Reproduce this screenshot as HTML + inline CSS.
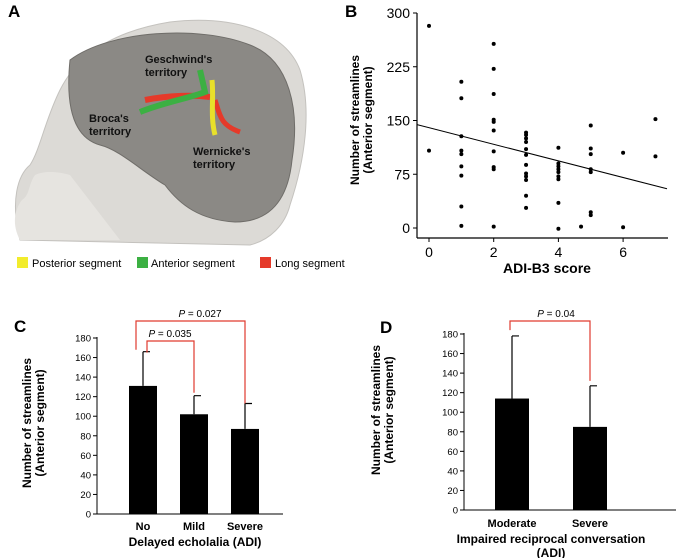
<!DOCTYPE html>
<html><head><meta charset="utf-8">
<style>
body{margin:0;background:#fff;overflow:hidden;}
svg{display:block;font-family:"Liberation Sans",Arial,sans-serif;}
</style></head>
<body>
<svg id="fig" width="688" height="558" viewBox="0 0 688 558" xmlns="http://www.w3.org/2000/svg">
<g>
<text x="8" y="17" font-size="17" font-weight="bold">A</text>
<path d="M20,240 C10,200 18,175 30,165 C40,150 45,120 60,90 C80,50 120,30 170,22 C230,15 285,30 300,70 C312,110 305,160 290,205 C285,225 270,240 250,245 Z" fill="#dcdad6" stroke="#c4c2be"/>
<path d="M20,240 C12,225 14,210 22,200 C30,195 28,185 35,175 C45,170 60,172 70,175 L120,240 Z" fill="#e6e4e0"/>
<path d="M70,60 C110,30 200,25 250,45 C290,60 300,110 292,160 C288,200 270,222 235,222 C200,220 180,205 165,185 C140,170 120,150 100,145 C75,138 65,110 70,60 Z" fill="#8b8985" stroke="#6f6d69"/>
<path d="M145,100 C170,95 195,95 210,97" stroke="#e53a2a" stroke-width="6" fill="none"/>
<path d="M215,100 C220,115 220,125 240,132" stroke="#e53a2a" stroke-width="5" fill="none"/>
<path d="M140,112 C165,102 190,98 205,92 L200,70" stroke="#3cb043" stroke-width="6" fill="none"/>
<path d="M212,80 C214,100 210,115 215,135" stroke="#e8e02a" stroke-width="5" fill="none"/>
<g font-size="11" font-weight="bold" fill="#111">
<text x="145" y="63">Geschwind's</text>
<text x="145" y="76">territory</text>
<text x="89" y="122">Broca's</text>
<text x="89" y="135">territory</text>
<text x="193" y="155">Wernicke's</text>
<text x="193" y="168">territory</text>
</g>
<g font-size="11">
<rect x="17" y="257" width="11" height="11" fill="#f2ec2c"/>
<text x="32" y="267">Posterior segment</text>
<rect x="137" y="257" width="11" height="11" fill="#3cb043"/>
<text x="151" y="267">Anterior segment</text>
<rect x="260" y="257" width="11" height="11" fill="#e53a2a"/>
<text x="275" y="267">Long segment</text>
</g>
</g>
<g id="panelB"></g>
<g id="panelC"></g>
<g id="panelD"></g>
</svg>
<script>
const NS="http://www.w3.org/2000/svg";
function el(p,t,a,txt){const e=document.createElementNS(NS,t);for(const k in a)e.setAttribute(k,a[k]);if(txt!==undefined)e.textContent=txt;p.appendChild(e);return e;}

const bX=[0,0,1,1,1,1,1,1,1,1,1,2,2,2,2,2,2,2,2,2,2,3,3,3,3,3,3,3,3,3,3,3,3,4,4,4,4,4,4,4,4,4,4.7,5,5,5,5,5,5,5,6,6,7,7];
const bY=[282,108,204,181,128,108,103,86,73,30,3,257,222,187,151,148,136,107,85,82,2,133,130,125,120,110,102,88,76,72,67,45,28,112,90,86,82,78,72,68,35,-1,2,143,111,103,82,78,22,18,105,1,152,100];
const bXTicks=[0,2,4,6];
const bYTicks=[0,75,150,225,300];
const bFit=[140,-11.6];
const cCats=["No","Mild","Severe"];
const cVals=[131,102,87];
const cErr=[166,121,113];
const cTicks=[0,20,40,60,80,100,120,140,160,180];
const dCats=["Moderate","Severe"];
const dVals=[114,85];
const dErr=[178,127];
const dTicks=[0,20,40,60,80,100,120,140,160,180];

(function(){
const g=document.getElementById('panelB');
const X=v=>429+v*32.35, Y=v=>228-v*(215/300);
el(g,'text',{x:345,y:17,'font-size':17,'font-weight':'bold'},'B');
const ya=el(g,'line',{x1:417,y1:13,x2:417,y2:238,stroke:'#000','stroke-width':1.2});


const xa=el(g,'line',{x1:417,y1:238,x2:668,y2:238,stroke:'#000','stroke-width':1.2});


bYTicks.forEach(t=>{el(g,'line',{x1:413,y1:Y(t),x2:417,y2:Y(t),stroke:'#000'});
 const tx=el(g,'text',{x:410,y:Y(t)+5,'font-size':14,'text-anchor':'end'},t);
 
 });
bXTicks.forEach(t=>{el(g,'line',{x1:X(t),y1:238,x2:X(t),y2:242,stroke:'#000'});
 const tx=el(g,'text',{x:X(t),y:257,'font-size':14,'text-anchor':'middle'},t);
 
 });
const fl=el(g,'line',{x1:417,y1:Y(bFit[0]+bFit[1]*(-0.37)),x2:667,y2:Y(bFit[0]+bFit[1]*7.35),stroke:'#000','stroke-width':1});


bX.forEach((x,i)=>{const c=el(g,'circle',{cx:X(x),cy:Y(bY[i]),r:2,fill:'#000'});
 
 });
const xt=el(g,'text',{x:547,y:273,'font-size':14,'font-weight':'bold','text-anchor':'middle'},'ADI-B3 score');


const yt=el(g,'text',{transform:'translate(359,120) rotate(-90)','font-size':12,'font-weight':'bold','text-anchor':'middle'});


el(yt,'tspan',{x:0,y:0},'Number of streamlines');
el(yt,'tspan',{x:0,y:13},'(Anterior segment)');
})();

function barPanel(id,o){
const g=document.getElementById(id);
const Y=v=>o.y0-v*(o.y0-o.y180)/180;
el(g,'text',{x:o.lx,y:o.ly,'font-size':17,'font-weight':'bold'},o.label);
const ya=el(g,'line',{x1:o.ax,y1:o.y180-1,x2:o.ax,y2:o.y0,stroke:'#000'});


const xa=el(g,'line',{x1:o.ax,y1:o.y0,x2:o.xend,y2:o.y0,stroke:'#000'});


o.ticks.forEach(t=>{el(g,'line',{x1:o.ax-4,y1:Y(t),x2:o.ax,y2:Y(t),stroke:'#000'});
 const tx=el(g,'text',{x:o.ax-6,y:Y(t)+3.5,'font-size':9.5,'text-anchor':'end'},t);
 
 });
const cx=[];
o.cats.forEach((c,i)=>{const x=o.bx[i];cx.push(x+o.bw/2);
 const r=el(g,'rect',{x:x,y:Y(o.vals[i]),width:o.bw,height:o.y0-Y(o.vals[i]),fill:'#000'});
 
 
 const m=x+o.bw/2;
 const e=el(g,'path',{d:`M${m},${Y(o.vals[i])}V${Y(o.err[i])}M${m},${Y(o.err[i])}h7`,stroke:'#000','stroke-width':1.2,fill:'none'});
 
 
 const tx=el(g,'text',{x:m,y:o.catY,'font-size':11,'font-weight':'bold','text-anchor':'middle'},c);
 
 });
o.brackets.forEach(b=>{
 const p=el(g,'path',{d:`M${cx[b.a]+b.da},${Y(b.ha)}V${b.top}H${cx[b.b]}V${Y(b.hb)}`,stroke:'#e03a2e','stroke-width':1.2,fill:'none'});
 
 
 const t=el(g,'text',{x:b.tx,y:b.top-4,'font-size':10,'text-anchor':'middle'});
 
 
 el(t,'tspan',{'font-style':'italic'},'P');
 el(t,'tspan',{},' = '+b.p);
});
o.title.forEach((s,i)=>{const t=el(g,'text',{x:o.tcx,y:o.ty+i*14,'font-size':12,'font-weight':'bold','text-anchor':'middle'},s);
 
 });
const yt=el(g,'text',{transform:`translate(${o.ylx},${o.yly}) rotate(-90)`,'font-size':12,'font-weight':'bold','text-anchor':'middle'});


el(yt,'tspan',{x:0,y:0},'Number of streamlines');
el(yt,'tspan',{x:0,y:13},'(Anterior segment)');
}
barPanel('panelC',{label:'C',lx:14,ly:332,ax:97,y0:514,y180:338,xend:283,ticks:cTicks,cats:cCats,vals:cVals,err:cErr,
 bx:[129,180,231],bw:28,catY:530,tcx:195,ty:546,title:['Delayed echolalia  (ADI)'],ylx:31,yly:423,
 brackets:[{a:0,b:1,da:4,ha:165,hb:124,top:341,tx:170,p:'0.035'},{a:0,b:2,da:-7,ha:168,hb:113,top:321,tx:200,p:'0.027'}]});
barPanel('panelD',{label:'D',lx:380,ly:333,ax:464,y0:510,y180:334,xend:676,ticks:dTicks,cats:dCats,vals:dVals,err:dErr,
 bx:[495,573],bw:34,catY:527,tcx:551,ty:543,title:['Impaired reciprocal conversation','(ADI)'],ylx:380,yly:410,
 brackets:[{a:0,b:1,da:-2,ha:184,hb:132,top:321,tx:556,p:'0.04'}]});
</script>
</body></html>
